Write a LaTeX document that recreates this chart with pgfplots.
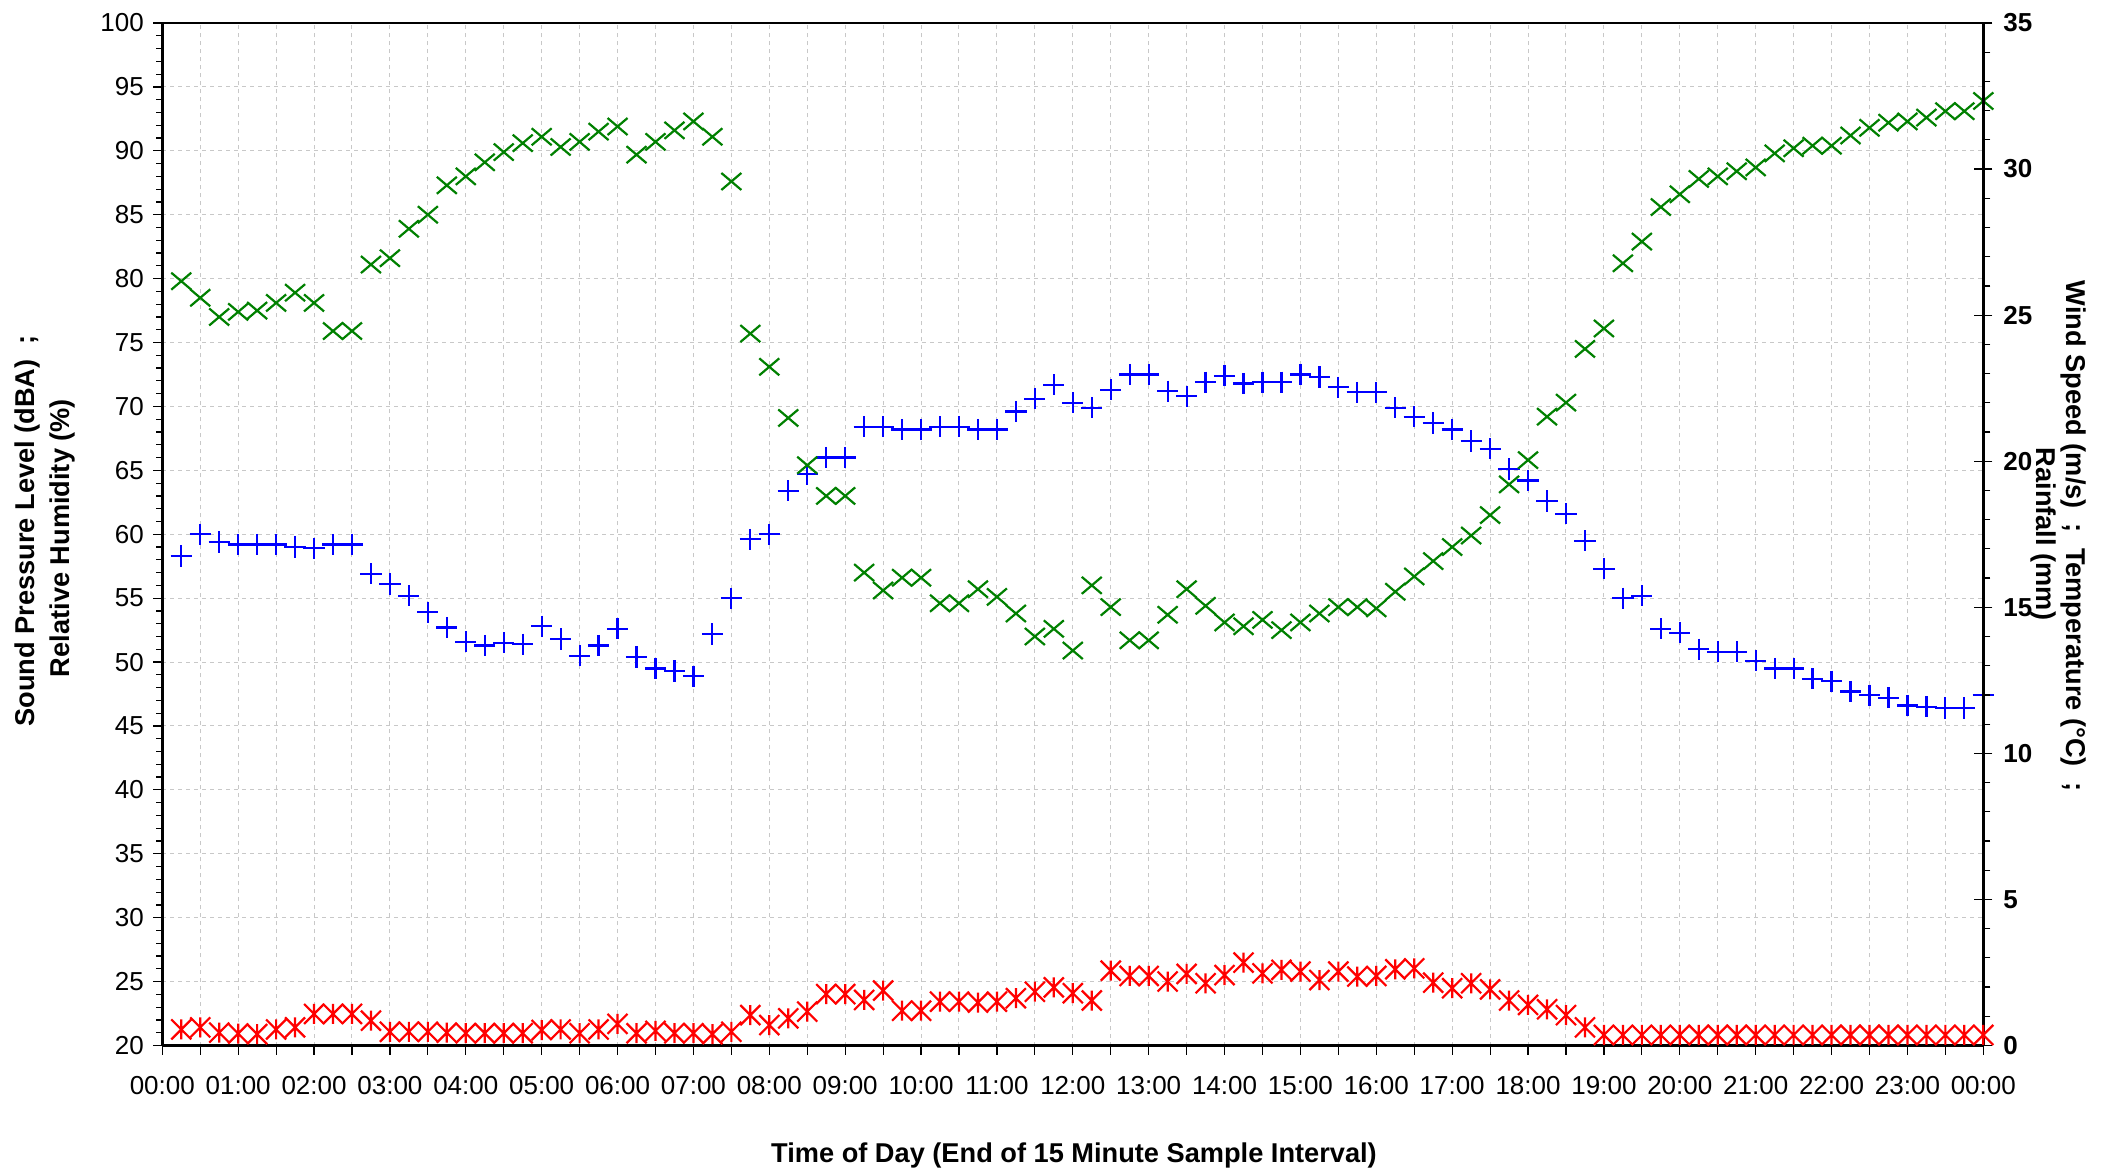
\documentclass[border=0pt]{standalone}
\usepackage{pgfplots}
\pgfplotsset{compat=1.18}
\usepackage{pgfplotstable}
\usepackage{fontspec}
\setmainfont{Liberation Sans}

\definecolor{cblue}{RGB}{0,0,255}
\definecolor{cgreen}{RGB}{0,128,0}
\definecolor{cred}{RGB}{255,0,0}
\definecolor{cgrid}{RGB}{200,200,200}

\pgfdeclareplotmark{gx}{%
  \pgfpathmoveto{\pgfpoint{-\pgfplotmarksize}{-0.85\pgfplotmarksize}}%
  \pgfpathlineto{\pgfpoint{\pgfplotmarksize}{0.85\pgfplotmarksize}}%
  \pgfpathmoveto{\pgfpoint{-\pgfplotmarksize}{0.85\pgfplotmarksize}}%
  \pgfpathlineto{\pgfpoint{\pgfplotmarksize}{-0.85\pgfplotmarksize}}%
  \pgfusepathqstroke}
\pgfdeclareplotmark{rast}{%
  \pgfpathmoveto{\pgfpoint{-\pgfplotmarksize}{-\pgfplotmarksize}}%
  \pgfpathlineto{\pgfpoint{\pgfplotmarksize}{\pgfplotmarksize}}%
  \pgfpathmoveto{\pgfpoint{-\pgfplotmarksize}{\pgfplotmarksize}}%
  \pgfpathlineto{\pgfpoint{\pgfplotmarksize}{-\pgfplotmarksize}}%
  \pgfpathmoveto{\pgfpoint{0pt}{-\pgfplotmarksize}}%
  \pgfpathlineto{\pgfpoint{0pt}{\pgfplotmarksize}}%
  \pgfusepathqstroke}

% t = hour (end of 15 min interval); spl = sound pressure level (dBA);
% rh = relative humidity (%); ws = right-axis series
\pgfplotstableread{
t     spl   rh    ws
0.25  58.3  79.8  0.55
0.50  60.0  78.5  0.62
0.75  59.4  77.0  0.44
1.00  59.2  77.4  0.41
1.25  59.2  77.5  0.39
1.50  59.2  78.1  0.55
1.75  59.0  78.9  0.62
2.00  58.9  78.1  1.08
2.25  59.2  75.9  1.08
2.50  59.2  75.9  1.08
2.75  56.9  81.1  0.85
3.00  56.1  81.6  0.47
3.25  55.2  83.9  0.47
3.50  53.9  85.0  0.47
3.75  52.7  87.3  0.44
4.00  51.6  88.0  0.42
4.25  51.3  89.1  0.42
4.50  51.5  89.9  0.42
4.75  51.4  90.6  0.42
5.00  52.8  91.1  0.53
5.25  51.8  90.3  0.55
5.50  50.5  90.7  0.42
5.75  51.3  91.5  0.55
6.00  52.6  91.9  0.74
6.25  50.4  89.7  0.42
6.50  49.5  90.7  0.50
6.75  49.3  91.6  0.42
7.00  48.9  92.3  0.42
7.25  52.2  91.1  0.39
7.50  55.0  87.6  0.47
7.75  59.6  75.7  1.04
8.00  60.0  73.1  0.70
8.25  63.4  69.1  0.93
8.50  64.7  65.4  1.16
8.75  66.0  63.0  1.76
9.00  66.0  63.0  1.76
9.25  68.4  57.0  1.56
9.50  68.4  55.6  1.88
9.75  68.2  56.6  1.19
10.00 68.2  56.6  1.19
10.25 68.4  54.6  1.50
10.50 68.4  54.6  1.50
10.75 68.2  55.7  1.47
11.00 68.2  55.1  1.50
11.25 69.6  53.8  1.62
11.50 70.6  52.0  1.84
11.75 71.7  52.6  1.99
12.00 70.3  50.9  1.79
12.25 69.9  56.0  1.54
12.50 71.3  54.3  2.56
12.75 72.5  51.7  2.38
13.00 72.5  51.7  2.38
13.25 71.2  53.7  2.19
13.50 70.8  55.7  2.45
13.75 71.9  54.4  2.13
14.00 72.4  53.1  2.41
14.25 71.8  52.8  2.84
14.50 71.9  53.3  2.47
14.75 71.9  52.5  2.59
15.00 72.5  53.1  2.53
15.25 72.3  53.8  2.24
15.50 71.5  54.3  2.53
15.75 71.1  54.3  2.36
16.00 71.1  54.2  2.38
16.25 69.9  55.5  2.61
16.50 69.2  56.7  2.64
16.75 68.7  57.9  2.15
17.00 68.2  59.0  1.96
17.25 67.3  59.9  2.13
17.50 66.7  61.5  1.92
17.75 65.1  63.9  1.54
18.00 64.2  65.8  1.39
18.25 62.6  69.2  1.24
18.50 61.6  70.3  1.04
18.75 59.5  74.5  0.62
19.00 57.3  76.1  0.36
19.25 55.0  81.2  0.36
19.50 55.2  82.9  0.36
19.75 52.6  85.6  0.36
20.00 52.3  86.6  0.36
20.25 51.0  87.8  0.36
20.50 50.8  88.0  0.36
20.75 50.8  88.4  0.36
21.00 50.1  88.7  0.36
21.25 49.5  89.8  0.36
21.50 49.5  90.2  0.36
21.75 48.7  90.4  0.36
22.00 48.5  90.4  0.36
22.25 47.7  91.2  0.36
22.50 47.4  91.8  0.36
22.75 47.2  92.2  0.36
23.00 46.6  92.3  0.36
23.25 46.5  92.6  0.36
23.50 46.4  93.1  0.36
23.75 46.4  93.1  0.36
24.00 47.4  93.9  0.36
}\data

\newcommand{\tickfont}{\fontsize{13}{15}\selectfont}
\newcommand{\titlefont}{\fontsize{13.6}{16}\selectfont\bfseries}

\begin{document}
\begin{tikzpicture}
\begin{axis}[
  at={(81.15pt,61.25pt)}, anchor=south west,
  scale only axis, width=910.5pt, height=511.25pt,
  xmin=0, xmax=24, ymin=20, ymax=100,
  axis x line*=bottom, axis y line*=left,
  axis line style={line width=1.5pt, black},
  xtick={0,0.5,...,24},
  xticklabels={00:00,,01:00,,02:00,,03:00,,04:00,,05:00,,06:00,,07:00,,08:00,,09:00,,10:00,,11:00,,12:00,,13:00,,14:00,,15:00,,16:00,,17:00,,18:00,,19:00,,20:00,,21:00,,22:00,,23:00,,00:00},
  ytick={20,25,...,100}, minor y tick num=4,
  tick align=outside,
  major tick length=4.5pt, minor tick length=3pt,
  tick style={black, line width=0.6pt},
  xmajorgrids, ymajorgrids,
  grid style={cgrid, line width=0.5pt, dash pattern=on 2pt off 2pt},
  tick label style={font=\tickfont},
  yticklabel style={xshift=-1.2pt},
  xticklabel style={yshift=-7.5pt},
  /pgf/number format/assume math mode=true,
  clip=false,
]
\addplot[only marks, mark=+, mark size=5.3pt, cblue, line width=1.1pt] table[x=t, y=spl] {\data};
\addplot[only marks, mark=gx, mark size=5pt, cgreen, line width=1.1pt] table[x=t, y=rh] {\data};
\end{axis}
\begin{axis}[
  at={(81.15pt,61.25pt)}, anchor=south west,
  scale only axis, width=910.5pt, height=511.25pt,
  xmin=0, xmax=24, ymin=0, ymax=35,
  axis x line*=top, axis y line*=right,
  x axis line style={line width=0.6pt, black},
  y axis line style={line width=1.5pt, black},
  xtick=\empty,
  ytick={0,5,...,35}, minor y tick num=4,
  tick align=outside,
  major tick length=4.5pt, minor tick length=3.5pt,
  tick style={black, line width=0.6pt},
  extra y ticks={0,5,...,35},
  extra y tick labels={,,,,,,,},
  extra y tick style={tick align=inside},
  tick label style={font=\tickfont\bfseries},
  yticklabel style={xshift=2pt},
  /pgf/number format/assume math mode=true,
  clip=false,
]
\addplot[only marks, mark=rast, mark size=5pt, cred, line width=1.1pt] table[x=t, y=ws] {\data};
\end{axis}
\node[rotate=90, font=\titlefont] at (13.5pt,318.5pt) {Sound Pressure Level (dBA)~~;};
\node[rotate=90, font=\titlefont] at (31pt,315pt) {Relative Humidity (\%)};
\node[rotate=-90, font=\titlefont] at (1037pt,316pt) {Wind Speed (m/s)~~;~~Temperature (°C)~~;};
\node[rotate=-90, font=\titlefont] at (1022pt,317pt) {Rainfall (mm)};
\node[font=\titlefont] at (537pt,6.5pt) {Time of Day (End of 15 Minute Sample Interval)};
\pgfresetboundingbox
\useasboundingbox (0,0) rectangle (1055.5pt,584pt);
\end{tikzpicture}
\end{document}
